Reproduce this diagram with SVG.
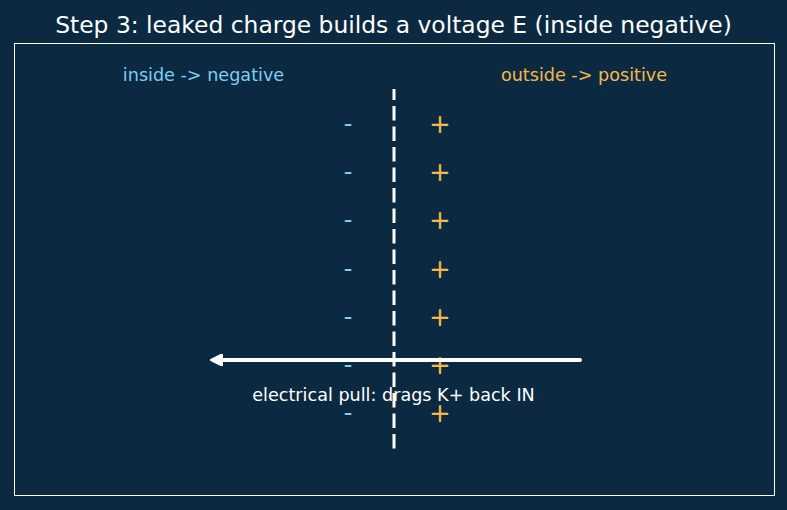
<svg xmlns="http://www.w3.org/2000/svg" width="787" height="510" viewBox="0 0 787 510">
<style>
text{font-family:"DejaVu Sans",sans-serif;text-anchor:middle}
.title{font-size:23.4px;fill:#ffffff}
.lab{font-size:17.6px}
.neg{fill:#7fcdf2;font-size:24px}
.pos{fill:#f5b84c;font-size:26px}
</style>
<defs>
<marker id="ah" viewBox="0 0 10 10" refX="1" refY="5" markerWidth="3.2" markerHeight="3.2" orient="auto-start-reverse">
<path d="M0,0 L10,5 L0,10 Z" fill="#ffffff" stroke="#ffffff" stroke-width="1" stroke-linejoin="round"/>
</marker>
</defs>
<rect width="787" height="510" fill="#0b2a42"/>
<text class="title" x="393.5" y="33">Step 3: leaked charge builds a voltage E (inside negative)</text>
<rect x="14.5" y="43.5" width="760" height="452" fill="none" stroke="#ffffff" stroke-width="1"/>
<text class="lab" x="203.5" y="81" fill="#7fcdf2">inside -&gt; negative</text>
<text class="lab" x="584" y="81" fill="#f5b84c">outside -&gt; positive</text>
<g id="charges">
<text class="neg" x="348" y="132">-</text>
<text class="neg" x="348" y="180">-</text>
<text class="neg" x="348" y="228">-</text>
<text class="neg" x="348" y="277">-</text>
<text class="neg" x="348" y="325">-</text>
<text class="neg" x="348" y="373">-</text>
<text class="neg" x="348" y="421">-</text>
<text class="pos" x="440" y="133">+</text>
<text class="pos" x="440" y="181">+</text>
<text class="pos" x="440" y="229">+</text>
<text class="pos" x="440" y="278">+</text>
<text class="pos" x="440" y="326">+</text>
<text class="pos" x="440" y="374">+</text>
<text class="pos" x="440" y="422">+</text>
</g>
<g id="membrane">
<line x1="394" y1="89" x2="394" y2="450" stroke="#ffffff" stroke-width="3" stroke-dasharray="14.5 6" stroke-dashoffset="3.5"/>
</g>
<g id="connectors">
<line x1="580" y1="360" x2="221.5" y2="360" stroke="#ffffff" stroke-width="4" stroke-linecap="round" marker-end="url(#ah)"/>
</g>
<text x="393.5" y="401" fill="#ffffff" style="font-size:17.6px">electrical pull: drags K+ back IN</text>
</svg>
